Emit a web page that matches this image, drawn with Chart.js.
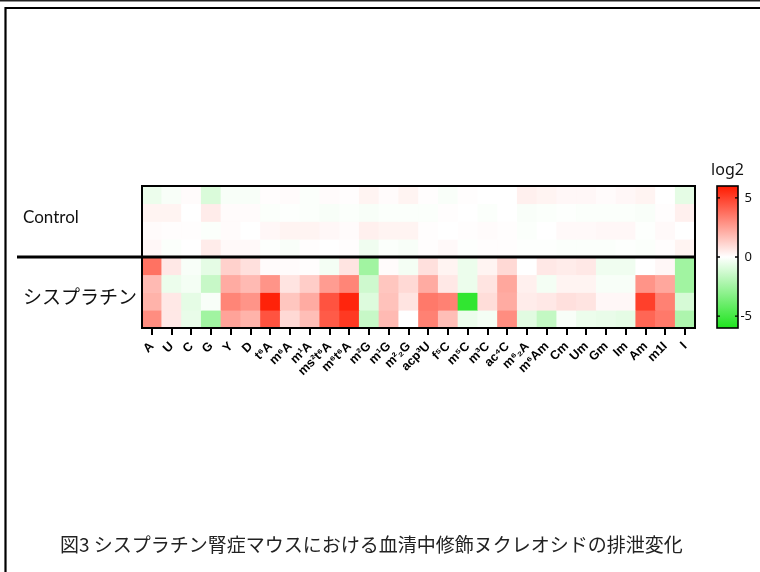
<!DOCTYPE html>
<html>
<head>
<meta charset="utf-8">
<script src="https://cdn.jsdelivr.net/npm/chart.js@4/dist/chart.umd.min.js"></script>
<style>
  html, body { margin: 0; padding: 0; background: #fff; }
  #wrap { width: 760px; height: 572px; }
</style>
</head>
<body>
<div id="wrap"><canvas id="c" width="760" height="572"></canvas></div>
<script>
// Modified nucleosides (columns)
const categories = ['A','U','C','G','Y','D','t⁶A','m⁶A','m¹A','ms²t⁶A','m⁶t⁶A','m²G','m¹G','m²₂G','acp³U',
  'f⁵C','m⁵C','m³C','ac⁴C','m⁶₂A','m⁶Am','Cm','Um','Gm','Im','Am','m1I','I'];

// Groups (four animals each)
const groups = ['Control', 'シスプラチン'];

// log2 fold change per animal, one row each
const control1 = [-0.5,-0.2,0.1,-1.0,-0.2,-0.2,0.05,0.1,-0.1,0.1,0.05,0.3,0.1,0.3,0.05,-0.15,0.05,0,0,0.4,0.3,0.2,0.2,0.1,0.2,0.3,0,-0.7];
const control2 = [0.3,0.3,0,0.5,0.1,0.1,-0.1,-0.05,-0.1,-0.2,-0.1,-0.2,-0.1,-0.1,-0.1,0.05,0,-0.1,0,-0.15,-0.1,-0.05,-0.1,-0.1,-0.1,-0.15,0.05,0.4];
const control3 = [0.1,0.05,0.05,-0.1,0.1,0,0.2,0.3,0.3,0.2,0.1,0.4,0.3,0.3,0.05,0,0.05,0.1,0.05,-0.1,0,0.15,0.15,0.2,0.2,-0.05,0.15,0];
const control4 = [0.2,-0.1,0,0.5,0.15,0.15,-0.05,-0.15,0.05,0,0.05,-0.4,-0.1,-0.2,0.05,0.15,-0.05,0.05,0.05,-0.05,-0.05,-0.1,-0.1,-0.1,-0.05,-0.1,0.05,0.3];
const cisplatin1 = [3.7,0.6,-0.2,-0.7,1.2,0.8,0.1,0.1,0.05,-0.3,0.7,-2.5,0.1,-0.3,0.8,0.3,-0.5,0.3,1.0,0,0.6,0.5,0.6,-0.4,-0.4,0,0.2,-2.5];
const cisplatin2 = [1.8,-0.5,-0.3,-1.5,2.2,1.8,2.8,0.7,1.3,2.6,3.2,-1.3,1.5,1.0,2.2,0.6,-0.5,0.7,2.3,0.4,-0.3,0.3,0.3,-0.2,-0.2,2.8,2.3,-2.5];
const cisplatin3 = [2.0,0.6,-0.7,-0.2,3.2,2.8,5.8,1.5,2.2,4.5,5.7,-0.9,1.6,0.7,3.5,3.3,-5.5,0.9,2.2,0.5,0.6,0.8,0.7,0.2,0.2,5.0,3.3,-1.1];
const cisplatin4 = [3.0,0.6,-0.6,-2.5,2.4,2.0,4.5,1.0,1.7,4.3,5.2,-1.5,1.8,0,3.3,1.7,-0.5,-0.3,3.0,-0.8,-1.6,-0.2,-0.5,-0.6,-0.7,4.0,3.5,-2.2];

// Colour scale range and its labelled ticks
const colorMin = -6;
const colorMax = 6;
const colorTicks = [5, 0, -5];

const rows = [control1, control2, control3, control4, cisplatin1, cisplatin2, cisplatin3, cisplatin4];

const RED = [255, 26, 0];
const GREEN = [30, 228, 30];
function colorFor(v) {
  const t = Math.min(Math.abs(v) / (v >= 0 ? colorMax : -colorMin), 1);
  const end = v >= 0 ? RED : GREEN;
  const c = end.map(e => Math.round(255 + (e - 255) * t));
  return `rgb(${c[0]},${c[1]},${c[2]})`;
}

// Each row becomes a set of floating bars one unit tall; row 0 at the top
const nRows = rows.length;
const datasets = rows.map((vals, r) => ({
  data: vals.map(() => [nRows - 1 - r, nRows - r]),
  backgroundColor: vals.map(colorFor),
  borderWidth: 0,
  barPercentage: 1,
  categoryPercentage: 1
}));

const decor = {
  id: 'decor',
  afterDraw(chart) {
    const ctx = chart.ctx;
    const a = chart.chartArea;
    const y = chart.scales.y;
    ctx.save();
    ctx.strokeStyle = '#000';

    // page frame
    ctx.lineWidth = 1.5;
    ctx.strokeStyle = '#222';
    ctx.beginPath(); ctx.moveTo(0, 0.75); ctx.lineTo(760, 0.75); ctx.stroke();
    ctx.strokeStyle = '#000';
    ctx.lineWidth = 2.2;
    ctx.beginPath(); ctx.moveTo(5.5, 572); ctx.lineTo(5.5, 8); ctx.lineTo(760, 8); ctx.stroke();

    // heatmap border
    ctx.lineWidth = 2;
    ctx.strokeRect(a.left, a.top, a.right - a.left, a.bottom - a.top);

    // group separator
    const ySep = y.getPixelForValue(nRows / 2);
    ctx.lineWidth = 2.8;
    ctx.beginPath(); ctx.moveTo(17, ySep); ctx.lineTo(a.right, ySep); ctx.stroke();

    // group labels
    ctx.fillStyle = '#111';
    ctx.textBaseline = 'middle';
    ctx.textAlign = 'left';
    ctx.font = '17px Lato, "Open Sans", sans-serif';
    ctx.fillText(groups[0], 23, y.getPixelForValue(6.2));
    ctx.font = '19px "Noto Sans CJK JP", sans-serif';
    ctx.fillText(groups[1], 23, y.getPixelForValue(1.75));

    // colour bar
    const cbL = 717, cbR = 738, cbT = a.top, cbB = a.bottom;
    const vy = v => cbT + (colorMax - v) / (colorMax - colorMin) * (cbB - cbT);
    const g = ctx.createLinearGradient(0, cbT, 0, cbB);
    for (let i = 0; i <= 24; i++) {
      const v = colorMax - i * (colorMax - colorMin) / 24;
      g.addColorStop(i / 24, colorFor(v));
    }
    ctx.fillStyle = g;
    ctx.fillRect(cbL, cbT, cbR - cbL, cbB - cbT);
    ctx.lineWidth = 1.6;
    ctx.strokeRect(cbL, cbT, cbR - cbL, cbB - cbT);
    ctx.lineWidth = 1.4;
    ctx.fillStyle = '#111';
    ctx.font = '13px "Noto Sans", sans-serif';
    ctx.textAlign = 'right';
    colorTicks.forEach(t => {
      const py = vy(t);
      ctx.beginPath();
      ctx.moveTo(cbL, py); ctx.lineTo(cbL + 3, py);
      ctx.moveTo(cbR - 3, py); ctx.lineTo(cbR, py);
      ctx.stroke();
      ctx.fillText(String(t), 752, py);
    });
    ctx.textAlign = 'center';
    ctx.font = '16px "Noto Sans", sans-serif';
    ctx.fillText('log2', (cbL + cbR) / 2, 170);

    // caption
    ctx.textAlign = 'left';
    ctx.fillStyle = '#222';
    ctx.font = '19px "Noto Sans CJK JP", sans-serif';
    ctx.fillText('図3 シスプラチン腎症マウスにおける血清中修飾ヌクレオシドの排泄変化', 60, 545);
    ctx.restore();
  }
};

new Chart(document.getElementById('c'), {
  type: 'bar',
  data: { labels: categories, datasets },
  options: {
    responsive: false,
    animation: false,
    events: [],
    devicePixelRatio: 1,
    layout: { padding: { left: 142, right: 65, top: 186, bottom: 184 } },
    plugins: { legend: { display: false }, tooltip: { enabled: false }, title: { display: false } },
    scales: {
      x: {
        type: 'category',
        stacked: true,
        offset: true,
        afterFit(s) { s.height = 60; },
        border: { display: false },
        grid: { display: true, offset: false, drawOnChartArea: false, drawTicks: true, tickLength: 7, color: '#000', lineWidth: 2 },
        ticks: {
          autoSkip: false, minRotation: 45, maxRotation: 45, padding: 4, color: '#000',
          font: { family: '"Liberation Sans", Arial, sans-serif', weight: 'bold', size: 12.5 }
        }
      },
      y: { type: 'linear', stacked: false, min: 0, max: nRows, display: false }
    }
  },
  plugins: [decor]
});
</script>
</body>
</html>
